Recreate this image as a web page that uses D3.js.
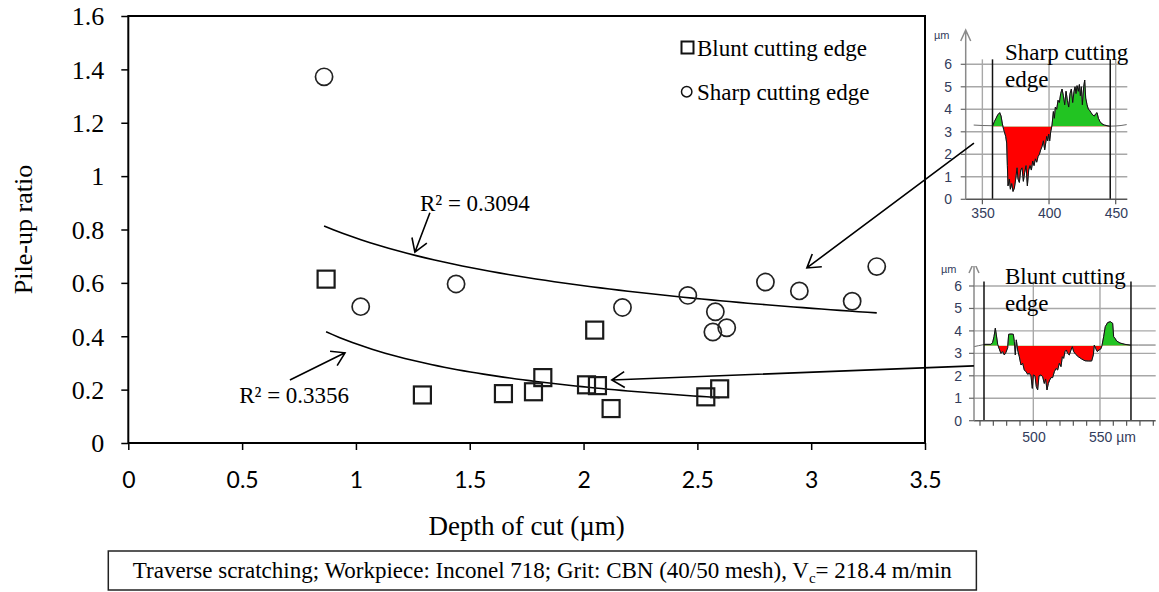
<!DOCTYPE html>
<html>
<head>
<meta charset="utf-8">
<script src="https://cdn.jsdelivr.net/npm/d3@7"></script>
<style>
  body { margin: 0; background: #fff; }
  svg { display: block; }
</style>
</head>
<body>
<svg id="chart" width="1159" height="592"></svg>
<script>
// ---------- scatter data: pile-up ratio vs depth of cut ----------
const bluntDepth = [0.869, 1.292, 1.648, 1.780, 1.821, 2.013, 2.049, 2.061, 2.121, 2.537, 2.598];
const bluntRatio = [0.614, 0.180, 0.185, 0.192, 0.245, 0.218, 0.423, 0.215, 0.129, 0.173, 0.203];
const sharpDepth = [0.860, 1.021, 1.440, 2.171, 2.458, 2.568, 2.579, 2.629, 2.799, 2.948, 3.180, 3.288];
const sharpRatio = [1.372, 0.511, 0.596, 0.508, 0.553, 0.416, 0.492, 0.432, 0.603, 0.570, 0.531, 0.661];

// power-law trend lines  y = a * x^b
const sharpTrend = [0.768, -0.382];
const bluntTrend = [0.3717, -0.82];
const sharpR2 = "R² = 0.3094";
const bluntR2 = "R² = 0.3356";

const xTicks = [0, 0.5, 1, 1.5, 2, 2.5, 3, 3.5];
const yTicks = [0, 0.2, 0.4, 0.6, 0.8, 1, 1.2, 1.4, 1.6];

// ---------- surface profiles (lateral position µm, height µm) ----------
const sharpProfX = [343.5,350,357.75,359,360.25,361.5,363,364,365,366,366.5,367.5,368.25,368.75,369.25,370.25,371,372,373,374,375,376,376.75,377.75,378.75,379.75,380.75,381.75,382.75,383.75,384.75,385.75,386.75,387.75,388.75,389.75,390.75,391.75,392.75,393.75,394.75,395.75,396.75,397.5,398.25,399,399.75,400.5,401.25,402.25,403.25,404,404.75,405.75,406.75,407.75,408.75,409.75,410.75,411.75,412.75,413.75,414.75,415.75,416.75,417.75,418.75,419.5,420.25,421,422,422.75,423.5,424.25,425,426,426.75,427.5,428.5,429.5,430.5,431.5,432.75,434,435,436,437,438.25,439.75,441.5,443.5,445.5,450.25,454,458.25];
const sharpProfZ = [3.30,3.28,3.27,3.45,3.6,3.75,3.85,3.7,3.35,3.1,3.0,2.8,2.5,1.5,0.6,0.9,0.45,0.7,0.35,0.5,0.9,1.4,0.9,0.75,1.3,1.4,0.8,1.2,1.5,0.6,1.3,1.5,1.3,1.7,1.5,1.8,1.65,1.9,2.0,2.2,2.35,2.6,2.2,2.5,2.8,2.6,2.9,2.6,3.0,3.3,3.9,3.6,4.1,4.0,4.4,4.3,4.7,4.9,4.6,4.2,4.8,4.4,4.1,4.7,4.9,4.3,4.8,5.0,4.7,5.05,4.8,5.1,4.6,5.0,4.2,5.0,5.3,4.5,4.2,4.0,3.95,3.85,3.75,3.7,3.8,3.85,3.6,3.45,3.35,3.3,3.27,3.25,3.26,3.28,3.32];

const bluntProfX = [455.5,458.75,463.75,468.25,469.5,470.5,471.5,472.25,473.25,474.75,475.75,477,478.25,479.5,480.75,481.5,483.25,485,485.75,486.5,487.25,488.25,489.5,490.75,492,493.25,494.5,495.75,497,498.25,499.25,500,501.25,502.25,503.25,504.25,505.75,507,508.25,509.25,510.25,511.25,512.25,513.25,514.5,515.75,517,518.25,519.5,520.75,521.75,522.75,523.75,524.75,525.75,527,528.25,529.25,530.25,531.75,533.75,536.25,538.75,541.25,543.75,545,545.75,546.75,548,549.25,550.5,551.5,552.75,554,555.75,557.75,559.5,560.25,561.25,562.5,565,568.75,572.5,578.75,591.75];
const bluntProfZ = [3.30,3.34,3.40,3.40,3.49,3.74,4.12,3.82,3.40,3.15,3.00,3.08,2.93,3.05,3.25,3.85,3.86,3.85,3.52,2.93,3.60,3.15,2.85,2.48,2.56,2.26,2.18,2.07,2.11,2.0,1.44,2.04,2.0,1.52,1.37,2.0,2.04,1.96,1.66,1.86,1.37,1.66,1.81,1.92,1.92,2.18,2.33,2.26,2.56,2.41,2.85,2.78,3.08,3.15,3.0,2.93,3.15,3.30,3.08,2.96,2.85,2.75,2.67,2.66,2.66,2.93,3.37,3.22,3.08,3.15,3.19,3.34,3.74,4.19,4.37,4.41,4.34,3.74,3.67,3.55,3.46,3.40,3.37,3.37,3.37];

const profileZTicks = [0, 1, 2, 3, 4, 5, 6];

// ---------- drawing ----------
const svg = d3.select("#chart");
const serif = "'Liberation Serif','Times New Roman',serif";
const sans = "'Liberation Sans',Arial,sans-serif";
const tickSans = "Lato,'Open Sans',sans-serif";
const fmt = d => String(+d.toFixed(1));

const x = d3.scaleLinear().domain([0, 3.5]).range([128.3, 925]);
const y = d3.scaleLinear().domain([0, 1.6]).range([443, 16]);

// axes
const gy = svg.append("g")
  .attr("transform", `translate(${x(0)},0)`)
  .call(d3.axisLeft(y).tickValues(yTicks).tickSize(7).tickSizeOuter(0).tickPadding(17).tickFormat(fmt));
gy.select(".domain").remove();
gy.selectAll(".tick line").attr("stroke", "#000").attr("stroke-width", 1.5);
gy.selectAll(".tick text").attr("font-family", serif).attr("font-size", 26).attr("fill", "#000").attr("dy", "0.34em");

const gx = svg.append("g")
  .attr("transform", `translate(0,${y(0)})`)
  .call(d3.axisBottom(x).tickValues(xTicks).tickSize(7).tickSizeOuter(0).tickFormat(fmt));
gx.select(".domain").remove();
gx.selectAll(".tick line").attr("stroke", "#000").attr("stroke-width", 1.5);
gx.selectAll(".tick text").attr("font-family", tickSans).attr("font-size", 23).attr("fill", "#000")
  .attr("y", 45).attr("dy", null);

// plot frame
svg.append("rect")
  .attr("x", x(0)).attr("y", y(1.6))
  .attr("width", x(3.5) - x(0)).attr("height", y(0) - y(1.6))
  .attr("fill", "none").attr("stroke", "#000").attr("stroke-width", 2);

// axis titles
svg.append("text")
  .attr("transform", `translate(31.5,${(y(0) + y(1.6)) / 2}) rotate(-90)`)
  .attr("text-anchor", "middle").attr("font-family", serif).attr("font-size", 26)
  .text("Pile-up ratio");
svg.append("text")
  .attr("x", (x(0) + x(3.5)) / 2).attr("y", 535)
  .attr("text-anchor", "middle").attr("font-family", serif).attr("font-size", 27)
  .text("Depth of cut (µm)");

// trend lines
function trendPath(coef, xs) {
  const [lo, hi] = d3.extent(xs);
  const pts = d3.range(0, 61).map(i => lo + (hi - lo) * i / 60);
  return d3.line().x(d => x(d)).y(d => y(coef[0] * Math.pow(d, coef[1])))(pts);
}
svg.append("path").attr("d", trendPath(sharpTrend, sharpDepth))
  .attr("fill", "none").attr("stroke", "#000").attr("stroke-width", 1.6);
svg.append("path").attr("d", trendPath(bluntTrend, bluntDepth))
  .attr("fill", "none").attr("stroke", "#000").attr("stroke-width", 1.6);

// markers
const sq = 17;
svg.append("g").selectAll("rect").data(d3.zip(bluntDepth, bluntRatio)).join("rect")
  .attr("x", d => x(d[0]) - sq / 2).attr("y", d => y(d[1]) - sq / 2)
  .attr("width", sq).attr("height", sq)
  .attr("fill", "none").attr("stroke", "#1a1a1a").attr("stroke-width", 2.2);
svg.append("g").selectAll("circle").data(d3.zip(sharpDepth, sharpRatio)).join("circle")
  .attr("cx", d => x(d[0])).attr("cy", d => y(d[1])).attr("r", 8.6)
  .attr("fill", "none").attr("stroke", "#222").attr("stroke-width", 1.7);

// legend
const lg = svg.append("g").attr("font-family", serif).attr("font-size", 23);
lg.append("rect").attr("x", 681.5).attr("y", 41.5).attr("width", 12).attr("height", 12)
  .attr("fill", "none").attr("stroke", "#111").attr("stroke-width", 2);
lg.append("text").attr("x", 697).attr("y", 56).text("Blunt cutting edge");
lg.append("circle").attr("cx", 686.7).attr("cy", 91.7).attr("r", 5.2)
  .attr("fill", "none").attr("stroke", "#111").attr("stroke-width", 1.5);
lg.append("text").attr("x", 697).attr("y", 100).text("Sharp cutting edge");

// annotation arrows
function arrowPath(x1, y1, x2, y2, len = 15, ang = 0.56) {
  const a = Math.atan2(y2 - y1, x2 - x1);
  const ax = x2 - len * Math.cos(a - ang), ay = y2 - len * Math.sin(a - ang);
  const bx = x2 - len * Math.cos(a + ang), by = y2 - len * Math.sin(a + ang);
  return `M${x1},${y1}L${x2},${y2}M${ax},${ay}L${x2},${y2}L${bx},${by}`;
}
const arrows = [
  [1.325, 0.863, 1.259, 0.715],
  [0.710, 0.236, 0.952, 0.338],
  [3.715, 1.124, 2.981, 0.656],
  [3.715, 0.289, 2.124, 0.236]
];

// R² labels
svg.append("text").attr("x", x(1.281)).attr("y", y(0.869))
  .attr("font-family", serif).attr("font-size", 23).text(sharpR2);
svg.append("text").attr("x", x(0.487)).attr("y", y(0.150))
  .attr("font-family", serif).attr("font-size", 23).text(bluntR2);

// ---------- profile insets ----------
let clipId = 0;
function profileInset(cfg) {
  const g = svg.append("g");
  const cid = "inset" + (clipId++);
  svg.append("clipPath").attr("id", cid).append("rect")
    .attr("x", cfg.clip[0]).attr("y", cfg.clip[1]).attr("width", cfg.clip[2]).attr("height", cfg.clip[3]);
  g.attr("clip-path", `url(#${cid})`);

  const px = d3.scaleLinear().domain(cfg.xDomain).range([cfg.left, cfg.right]);
  const pz = d3.scaleLinear().domain([0, 6]).range([cfg.zero, cfg.six]);
  const labelColor = "#323c5c";

  // horizontal grid
  g.append("g").selectAll("line").data(profileZTicks.slice(1)).join("line")
    .attr("x1", cfg.left).attr("x2", cfg.right)
    .attr("y1", d => pz(d)).attr("y2", d => pz(d))
    .attr("stroke", "#a8a8a8").attr("stroke-width", 1.4);
  // vertical grid
  g.append("g").selectAll("line").data(cfg.xGrid).join("line")
    .attr("x1", d => px(d)).attr("x2", d => px(d))
    .attr("y1", pz(cfg.gridTop)).attr("y2", pz(0))
    .attr("stroke", "#a8a8a8").attr("stroke-width", 1.4);

  // fills between profile and reference level, inside the cursors
  const pts = d3.zip(cfg.px, cfg.pz);
  const area = d3.area().x(d => px(d[0])).y0(pz(cfg.ref)).y1(d => pz(d[1]));
  const c0 = px(cfg.cursors[0]), c1 = px(cfg.cursors[1]);
  const upId = cid + "up", dnId = cid + "dn", midId = cid + "mid";
  svg.append("clipPath").attr("id", upId).append("rect")
    .attr("x", c0).attr("y", 0).attr("width", c1 - c0).attr("height", pz(cfg.ref));
  svg.append("clipPath").attr("id", dnId).append("rect")
    .attr("x", c0).attr("y", pz(cfg.ref)).attr("width", c1 - c0).attr("height", 300);
  svg.append("clipPath").attr("id", midId).append("rect")
    .attr("x", c0).attr("y", 0).attr("width", c1 - c0).attr("height", 600);
  g.append("path").attr("d", area(pts)).attr("fill", "#22c422").attr("clip-path", `url(#${upId})`);
  g.append("path").attr("d", area(pts)).attr("fill", "#ff0000").attr("clip-path", `url(#${dnId})`);

  const line = d3.line().x(d => px(d[0])).y(d => pz(d[1]));
  g.append("path").attr("d", line(pts)).attr("fill", "none").attr("stroke", "#6a6a6a").attr("stroke-width", 1);
  g.append("path").attr("d", line(pts)).attr("fill", "none").attr("stroke", "#111").attr("stroke-width", 1)
    .attr("clip-path", `url(#${midId})`);

  // cursors
  g.append("g").selectAll("line").data(cfg.cursors).join("line")
    .attr("x1", d => px(d)).attr("x2", d => px(d))
    .attr("y1", pz(cfg.cursorTop)).attr("y2", pz(0))
    .attr("stroke", "#111").attr("stroke-width", 1.5);

  // x axis (zero line) and ticks
  g.append("line").attr("x1", cfg.left).attr("x2", cfg.right)
    .attr("y1", pz(0)).attr("y2", pz(0)).attr("stroke", "#555").attr("stroke-width", 1.4);
  g.append("g").selectAll("line").data(cfg.xTickMarks).join("line")
    .attr("x1", d => px(d)).attr("x2", d => px(d))
    .attr("y1", pz(0)).attr("y2", pz(0) + 5).attr("stroke", "#555").attr("stroke-width", 1.2);
  g.append("g").selectAll("text").data(cfg.xLabels).join("text")
    .attr("x", d => px(d[0]) - 11).attr("y", cfg.xLabelBase)
    .attr("font-family", sans).attr("font-size", 14).attr("fill", labelColor)
    .text(d => d[1]);

  // y axis with arrow
  g.append("path")
    .attr("d", `M${cfg.left},${pz(0)}L${cfg.left},${cfg.axisTop}M${cfg.left - 5},${cfg.axisTop + 11}L${cfg.left},${cfg.axisTop}L${cfg.left + 5},${cfg.axisTop + 11}`)
    .attr("fill", "none").attr("stroke", "#8a8a8a").attr("stroke-width", 1.5);
  g.append("g").selectAll("line").data(profileZTicks).join("line")
    .attr("x1", cfg.left - 5).attr("x2", cfg.left)
    .attr("y1", d => pz(d)).attr("y2", d => pz(d)).attr("stroke", "#666").attr("stroke-width", 1.2);
  g.append("g").selectAll("text").data(profileZTicks).join("text")
    .attr("x", cfg.yLabelRight).attr("y", d => pz(d)).attr("dy", "0.36em")
    .attr("text-anchor", "end").attr("font-family", sans).attr("font-size", 14).attr("fill", labelColor)
    .text(d => d);
  g.append("text").attr("x", cfg.unitPos[0]).attr("y", cfg.unitPos[1])
    .attr("font-family", sans).attr("font-size", 11).attr("fill", labelColor).text("µm");

  // caption
  const cap = svg.append("text").attr("font-family", serif).attr("font-size", 23);
  cap.append("tspan").attr("x", 1005).attr("y", cfg.captionY[0]).text(cfg.caption[0]);
  cap.append("tspan").attr("x", 1005).attr("y", cfg.captionY[1]).text(cfg.caption[1]);
}

profileInset({
  clip: [928, 28, 231, 198],
  xDomain: [337.5, 458.7], left: 965.7, right: 1127.3,
  zero: 199.3, six: 64.3, axisTop: 30,
  px: sharpProfX, pz: sharpProfZ, ref: 3.24,
  cursors: [357.6, 445.9], cursorTop: 6.22, gridTop: 6.22,
  xGrid: [350, 400, 450], xTickMarks: [350, 400, 450],
  xLabels: [[350, "350"], [400, "400"], [450, "450"]], xLabelBase: 218,
  yLabelRight: 952, unitPos: [934, 39],
  caption: ["Sharp cutting", "edge"], captionY: [60, 87]
});

profileInset({
  clip: [928, 266, 231, 182],
  xDomain: [455.5, 591.8], left: 974, right: 1155.7,
  zero: 420.7, six: 286, axisTop: 262,
  px: bluntProfX, pz: bluntProfZ, ref: 3.34,
  cursors: [463, 573.25], cursorTop: 6.2, gridTop: 6.2,
  xGrid: [500, 550], xTickMarks: d3.range(460, 600, 10),
  xLabels: [[500, "500"], [550, "550 µm"]], xLabelBase: 441.5,
  yLabelRight: 962, unitPos: [941, 273],
  caption: ["Blunt cutting", "edge"], captionY: [284, 311]
});

// arrows drawn on top of the insets
svg.append("g").selectAll("path").data(arrows).join("path")
  .attr("d", d => arrowPath(x(d[0]), y(d[1]), x(d[2]), y(d[3])))
  .attr("fill", "none").attr("stroke", "#000").attr("stroke-width", 1.6);

// ---------- conditions box ----------
const box = svg.append("g");
const note = box.append("text")
  .attr("y", 578).attr("font-family", serif).attr("font-size", 23).attr("text-anchor", "middle");
note.append("tspan").text("Traverse scratching; Workpiece: Inconel 718; Grit: CBN (40/50 mesh), V");
note.append("tspan").attr("font-size", 15).attr("dy", 5).text("c");
note.append("tspan").attr("dy", -5).text("= 218.4 m/min");
const tw = note.node().getComputedTextLength();
const boxLeft = 108.3;
note.attr("x", boxLeft + 24.5 + tw / 2);
box.insert("rect", "text")
  .attr("x", boxLeft).attr("y", 551).attr("width", tw + 49).attr("height", 39)
  .attr("fill", "#fff").attr("stroke", "#222").attr("stroke-width", 1.5);
</script>
</body>
</html>
